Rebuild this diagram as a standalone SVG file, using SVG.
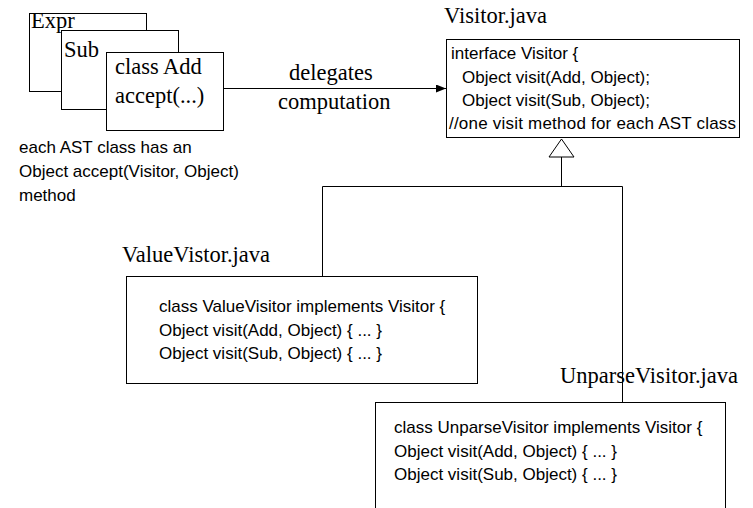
<svg xmlns="http://www.w3.org/2000/svg" width="753" height="508" viewBox="0 0 753 508">
<style>
.box{fill:#fff;stroke:#000;stroke-width:1}
.ser{font-family:"Liberation Serif","Times New Roman",serif;font-size:22.5px;fill:#000}
.san{font-family:"Liberation Sans",Arial,sans-serif;font-size:17px;fill:#000}
.ln{fill:none;stroke:#000;stroke-width:1}
</style>
<defs>
<marker id="arr" viewBox="0 0 10 8" refX="10" refY="4" markerWidth="10" markerHeight="8" markerUnits="userSpaceOnUse" orient="auto">
<path d="M0,0 L10,4 L0,8 z" fill="#000"/>
</marker>
</defs>
<rect width="753" height="508" fill="#fff"/>
<g id="connectors">
<line class="ln" x1="223" y1="88.5" x2="446" y2="88.5" marker-end="url(#arr)"/>
<text class="ser" x="289" y="80">delegates</text>
<text class="ser" x="278" y="109">computation</text>
<path class="ln" d="M561.5,157 V186.5 M322.5,186.5 H622.5 M322.5,186.5 V276 M622.5,186.5 V402"/>
<polygon points="561.5,139 549,157 574,157" fill="#fff" stroke="#000" stroke-width="1"/>
</g>
<g id="expr">
<rect class="box" x="29.5" y="13.5" width="117" height="78"/>
<text class="ser" x="31" y="28">Expr</text>
</g>
<g id="sub">
<rect class="box" x="61.5" y="30.5" width="117" height="79"/>
<text class="ser" x="64" y="57">Sub</text>
</g>
<g id="add">
<rect class="box" x="106.5" y="52.5" width="117" height="78"/>
<text class="ser" x="115" y="74">class Add</text>
<text class="ser" x="115" y="103">accept(...)</text>
</g>
<g id="note">
<text class="san" x="19" y="153">each AST class has an</text>
<text class="san" x="19" y="177">Object accept(Visitor, Object)</text>
<text class="san" x="19" y="201">method</text>
</g>
<g id="visitor">
<text class="ser" x="444" y="23">Visitor.java</text>
<rect class="box" x="446.5" y="39.5" width="293" height="98"/>
<text class="san" x="451" y="59">interface Visitor {</text>
<text class="san" x="462" y="83">Object visit(Add, Object);</text>
<text class="san" x="462" y="106">Object visit(Sub, Object);</text>
<text class="san" x="449" y="129" textLength="287" lengthAdjust="spacing">//one visit method for each AST class</text>
</g>
<g id="valuevisitor">
<text class="ser" x="122" y="262">ValueVistor.java</text>
<rect class="box" x="126.5" y="276.5" width="351" height="107"/>
<text class="san" x="159" y="312">class ValueVisitor implements Visitor {</text>
<text class="san" x="159" y="336">Object visit(Add, Object) { ... }</text>
<text class="san" x="159" y="359">Object visit(Sub, Object) { ... }</text>
</g>
<g id="unparsevisitor">
<text class="ser" x="560" y="383">UnparseVisitor.java</text>
<rect class="box" x="375.5" y="402.5" width="350" height="110"/>
<text class="san" x="394" y="433">class UnparseVisitor implements Visitor {</text>
<text class="san" x="394" y="457">Object visit(Add, Object) { ... }</text>
<text class="san" x="394" y="480">Object visit(Sub, Object) { ... }</text>
</g>
</svg>
